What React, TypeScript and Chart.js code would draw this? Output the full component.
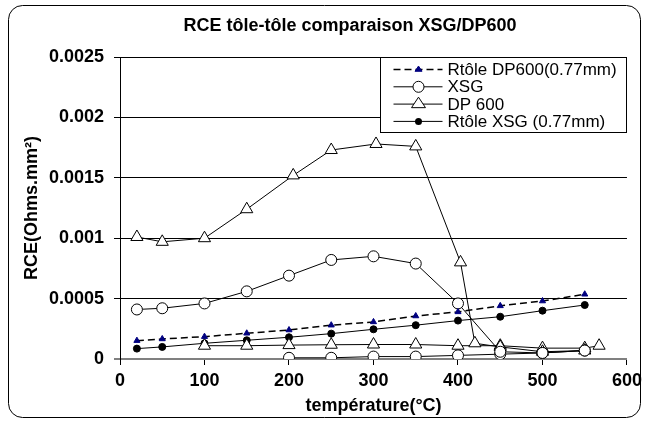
import React, { useEffect, useRef } from "react";
import { Chart, registerables } from "chart.js";

Chart.register(...registerables);

// ---- Data ----
const TITLE = "RCE tôle-tôle comparaison XSG/DP600";
const X_TITLE = "température(°C)";
const Y_TITLE = "RCE(Ohms.mm²)";
const Y_TICKS = [0, 0.0005, 0.001, 0.0015, 0.002, 0.0025];
const X_TICKS = [0, 100, 200, 300, 400, 500, 600];

const LABELS = ["Rtôle DP600(0.77mm)", "XSG", "DP 600", "Rtôle XSG (0.77mm)"];

const rtoleDP600_x = [20, 50, 100, 150, 200, 250, 300, 350, 400, 450, 500, 550];
const rtoleDP600_y = [0.000152, 0.000166, 0.000185, 0.000213, 0.00024, 0.00028, 0.000307, 0.000356, 0.00039, 0.00044, 0.00048, 0.000536];

const rtoleXSG_x = [20, 50, 100, 150, 200, 250, 300, 350, 400, 450, 500, 550];
const rtoleXSG_y = [0.000086, 0.0001, 0.00013, 0.000155, 0.00018, 0.00021, 0.000246, 0.00028, 0.000318, 0.00035, 0.0004, 0.000447];

const xsgHigh_x = [20, 50, 100, 150, 200, 250, 300, 350, 400, 450, 500, 550];
const xsgHigh_y = [0.00041, 0.00042, 0.00046, 0.00056, 0.00069, 0.00082, 0.00085, 0.00079, 0.00046, 0.00006, 0.00005, 0.00007];

const xsgLow_x = [200, 250, 300, 350, 400, 450, 500, 550];
const xsgLow_y = [0.00001, 0.00001, 0.00002, 0.00002, 0.00003, 0.00004, 0.00005, 0.00007];

const dpHigh_x = [20, 50, 100, 150, 205, 250, 303, 350, 403, 420, 450, 500, 550];
const dpHigh_y = [0.00101, 0.00097, 0.001, 0.00124, 0.00152, 0.00173, 0.00178, 0.00176, 0.0008, 0.00013, 0.0001, 0.00006, 0.00007];

const dpLow_x = [100, 150, 200, 250, 300, 350, 400, 450, 500, 550, 567];
const dpLow_y = [0.00011, 0.00011, 0.000115, 0.000118, 0.00012, 0.00012, 0.00011, 0.00011, 0.00009, 0.00009, 0.00011];

const zip = (xs: number[], ys: number[]) => xs.map((x, i) => ({ x, y: ys[i] }));

const FONT = "Arial, 'Liberation Sans', sans-serif";

type Style = { kind: "navytri" | "circle" | "triangle" | "dot"; dash: number[]; lw: number };
const STYLES: Style[] = [
  { kind: "navytri", dash: [7, 4], lw: 1.5 },
  { kind: "circle", dash: [], lw: 1 },
  { kind: "triangle", dash: [], lw: 1 },
  { kind: "dot", dash: [], lw: 1 },
];

function drawMarker(ctx: CanvasRenderingContext2D, kind: string, x: number, y: number) {
  ctx.save();
  ctx.setLineDash([]);
  ctx.lineWidth = 1;
  if (kind === "circle") {
    ctx.beginPath();
    ctx.arc(x, y, 5.5, 0, Math.PI * 2);
    ctx.fillStyle = "#fff";
    ctx.fill();
    ctx.strokeStyle = "#000";
    ctx.stroke();
  } else if (kind === "triangle" || kind === "navytri") {
    const r = kind === "triangle" ? 7 : 3.5;
    const h = r * 1.5;
    const s = r * Math.sqrt(3) / 2 * 1.15;
    ctx.beginPath();
    ctx.moveTo(x, y - h * 0.66);
    ctx.lineTo(x + s, y + h * 0.34);
    ctx.lineTo(x - s, y + h * 0.34);
    ctx.closePath();
    ctx.fillStyle = kind === "triangle" ? "#fff" : "#000080";
    ctx.fill();
    ctx.strokeStyle = kind === "triangle" ? "#000" : "#000080";
    ctx.stroke();
  } else {
    ctx.beginPath();
    ctx.arc(x, y, 3.5, 0, Math.PI * 2);
    ctx.fillStyle = "#000";
    ctx.fill();
  }
  ctx.restore();
}

const framePlugin = {
  id: "frame",
  beforeDraw(chart: any) {
    const ctx = chart.ctx as CanvasRenderingContext2D;
    ctx.save();
    ctx.fillStyle = "#fff";
    ctx.fillRect(0, 0, chart.width, chart.height);
    ctx.beginPath();
    (ctx as any).roundRect(8.5, 5.5, 632, 412, 14);
    ctx.strokeStyle = "#000";
    ctx.lineWidth = 1;
    ctx.stroke();
    // chart title
    ctx.font = `bold 18px ${FONT}`;
    ctx.fillStyle = "#000";
    ctx.textAlign = "center";
    ctx.textBaseline = "middle";
    ctx.fillText(TITLE, 350, 26);
    ctx.restore();
  },
};

const legendPlugin = {
  id: "customLegend",
  afterDraw(chart: any) {
    const ctx = chart.ctx as CanvasRenderingContext2D;
    const x0 = 380.5;
    const y0 = Math.round(chart.chartArea.top) + 0.5;
    const w = 246;
    const h = 75;
    ctx.save();
    ctx.fillStyle = "#fff";
    ctx.fillRect(x0, y0, w, h);
    ctx.strokeStyle = "#000";
    ctx.lineWidth = 1;
    ctx.strokeRect(x0, y0, w, h);
    ctx.font = `17px ${FONT}`;
    ctx.textBaseline = "middle";
    LABELS.forEach((label, i) => {
      const st = STYLES[i];
      const cy = y0 + 12 + i * 17.3;
      ctx.beginPath();
      ctx.setLineDash(st.dash.length ? st.dash : []);
      ctx.lineWidth = st.lw;
      ctx.strokeStyle = "#000";
      ctx.moveTo(x0 + 13, cy);
      ctx.lineTo(x0 + 62, cy);
      ctx.stroke();
      drawMarker(ctx, st.kind, x0 + 38, cy);
      ctx.setLineDash([]);
      ctx.fillStyle = "#000";
      ctx.fillText(label, x0 + 67, cy + 1);
    });
    ctx.restore();
  },
};

function makeDataset(label: string, data: { x: number; y: number }[], kind: string) {
  const base: any = {
    label,
    data,
    showLine: true,
    tension: 0,
    borderColor: "#000",
    borderWidth: 1,
    pointBorderWidth: 1,
  };
  if (kind === "navytri") {
    base.borderDash = [7, 4];
    base.borderWidth = 1.5;
    base.pointStyle = "triangle";
    base.pointRadius = 3.5;
    base.pointBackgroundColor = "#000080";
    base.pointBorderColor = "#000080";
  } else if (kind === "circle") {
    base.pointStyle = "circle";
    base.pointRadius = 5.5;
    base.pointBackgroundColor = "#fff";
    base.pointBorderColor = "#000";
  } else if (kind === "triangle") {
    base.pointStyle = "triangle";
    base.pointRadius = 7;
    base.pointBackgroundColor = "#fff";
    base.pointBorderColor = "#000";
  } else {
    base.pointStyle = "circle";
    base.pointRadius = 3.5;
    base.pointBackgroundColor = "#000";
    base.pointBorderColor = "#000";
  }
  return base;
}

export default function App() {
  const ref = useRef<HTMLCanvasElement>(null);

  useEffect(() => {
    if (!ref.current) return;
    const chart = new Chart(ref.current, {
      type: "scatter",
      data: {
        datasets: [
          makeDataset(LABELS[0], zip(rtoleDP600_x, rtoleDP600_y), "navytri"),
          makeDataset(LABELS[1], zip(xsgHigh_x, xsgHigh_y), "circle"),
          makeDataset(LABELS[1], zip(xsgLow_x, xsgLow_y), "circle"),
          makeDataset(LABELS[2], zip(dpHigh_x, dpHigh_y), "triangle"),
          makeDataset(LABELS[2], zip(dpLow_x, dpLow_y), "triangle"),
          makeDataset(LABELS[3], zip(rtoleXSG_x, rtoleXSG_y), "dot"),
        ],
      },
      options: {
        responsive: false,
        animation: false,
        layout: { padding: { left: 0, right: 19, top: 57, bottom: 0 } },
        plugins: {
          legend: { display: false },
          tooltip: { enabled: false },
          title: { display: false },
        },
        scales: {
          x: {
            type: "linear",
            min: 0,
            max: 600,
            afterBuildTicks: (s: any) => {
              s.ticks = X_TICKS.map((v) => ({ value: v }));
            },
            afterFit: (s: any) => {
              s.height = 62;
            },
            ticks: {
              color: "#000",
              font: { family: FONT, size: 18, weight: "bold" },
              padding: 5,
              maxRotation: 0,
            },
            grid: { drawOnChartArea: false, drawTicks: true, tickLength: 6, color: "#000" },
            border: { color: "#808080", width: 2 },
            title: {
              display: true,
              text: X_TITLE,
              color: "#000",
              font: { family: FONT, size: 18, weight: "bold", lineHeight: 1.2 },
              padding: { top: 0, bottom: 4 },
            },
          },
          y: {
            type: "linear",
            min: 0,
            max: 0.0025,
            afterBuildTicks: (s: any) => {
              s.ticks = Y_TICKS.map((v) => ({ value: v }));
            },
            afterFit: (s: any) => {
              s.width = 120;
            },
            ticks: {
              color: "#000",
              font: { family: FONT, size: 18, weight: "bold" },
              padding: 10,
              callback: (v: any) => String(Number(Number(v).toFixed(4))),
            },
            grid: {
              drawTicks: true,
              tickLength: 6,
              color: (c: any) => (c.tick && c.tick.value === 0 ? "#808080" : "#000"),
              lineWidth: (c: any) => (c.tick && c.tick.value === 0 ? 2 : 1),
            },
            border: { color: "#000", width: 1 },
            title: {
              display: true,
              text: Y_TITLE,
              color: "#000",
              font: { family: FONT, size: 18, weight: "bold", lineHeight: 1.2 },
              padding: { top: 21, bottom: 0 },
            },
          },
        },
      },
      plugins: [framePlugin, legendPlugin],
    } as any);
    return () => chart.destroy();
  }, []);

  return (
    <div style={{ position: "fixed", left: 0, top: 0, width: 647, height: 421, background: "#fff" }}>
      <canvas ref={ref} width={647} height={421} style={{ display: "block" }} />
    </div>
  );
}
